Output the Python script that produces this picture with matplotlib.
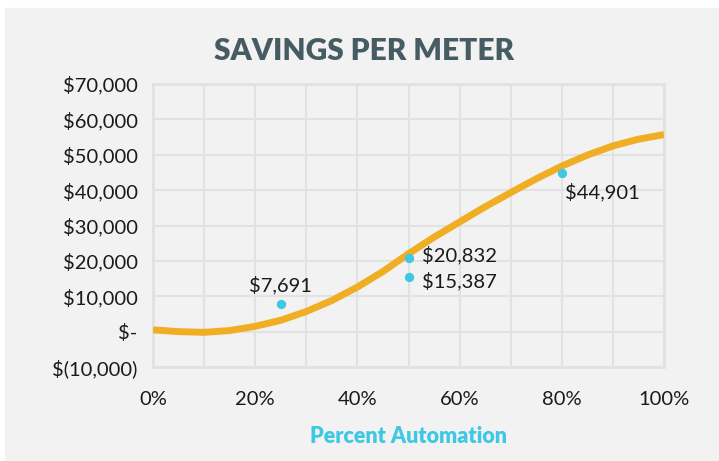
import matplotlib.pyplot as plt
from matplotlib.patches import Rectangle
from matplotlib.ticker import FuncFormatter, MultipleLocator

# curva de tendencia (cada 5%)
curva_x = [0, 0.05, 0.10, 0.15, 0.20, 0.25, 0.30, 0.35, 0.40, 0.45, 0.50,
           0.55, 0.60, 0.65, 0.70, 0.75, 0.80, 0.85, 0.90, 0.95, 1.00]
curva_y = [500, 0, -200, 300, 1500, 3200, 5700, 8800, 12600, 17000, 22000,
           26700, 31000, 35300, 39300, 43200, 46800, 49900, 52500, 54400, 55700]

# puntos medidos
puntos_x = [0.25, 0.50, 0.50, 0.80]
puntos_y = [7691, 20832, 15387, 44901]
etiquetas = ["$7,691", "$20,832", "$15,387", "$44,901"]

x_ticks = [0, 0.2, 0.4, 0.6, 0.8, 1.0]
y_ticks = [-10000, 0, 10000, 20000, 30000, 40000, 50000, 60000, 70000]

fondo = "#f2f2f2"
rejilla = "#e2e2e2"
naranja = "#f0ae24"
cian = "#3ec8e4"
fuente = "Lato"


def formato_y(v, pos):
    if v == 0:
        return "$-"
    if v < 0:
        return "$({:,.0f})".format(-v)
    return "${:,.0f}".format(v)


fig = plt.figure(figsize=(7.19, 4.61), dpi=100)
fig.patch.set_facecolor("white")
fig.patches.append(Rectangle((5 / 719, 0), 1, (461 - 8) / 461,
                             transform=fig.transFigure, color=fondo, zorder=-10))

ax = fig.add_axes([153 / 719, (461 - 367) / 461, 511 / 719, 283 / 461])
ax.set_facecolor(fondo)

ax.plot(curva_x, curva_y, color=naranja, lw=5, solid_capstyle="butt",
        solid_joinstyle="round", zorder=3)
ax.scatter(puntos_x, puntos_y, s=45, color=cian, zorder=4, linewidths=0)

desplaz = [(0, 14), (10, 2), (10, -3), (2, -14)]
alineacion = [("center", "center"), ("left", "center"), ("left", "center"), ("left", "center")]
for i in range(len(puntos_x)):
    ax.annotate(etiquetas[i], (puntos_x[i], puntos_y[i]), xytext=desplaz[i],
                textcoords="offset points", ha=alineacion[i][0], va=alineacion[i][1],
                fontsize=14.5, family=fuente, color="#1a1a1a", zorder=5)

ax.set_xlim(0, 1)
ax.set_ylim(-10000, 70000)
ax.set_xticks(x_ticks)
ax.xaxis.set_minor_locator(MultipleLocator(0.1))
ax.set_yticks(y_ticks)
ax.xaxis.set_major_formatter(FuncFormatter(lambda v, p: "{:.0f}%".format(v * 100)))
ax.yaxis.set_major_formatter(FuncFormatter(formato_y))
ax.grid(True, which="both", color=rejilla, lw=1.5)
ax.set_axisbelow(True)
ax.tick_params(which="both", length=0)
ax.tick_params(axis="x", pad=17)
ax.tick_params(axis="y", pad=11)
for lab in ax.get_xticklabels() + ax.get_yticklabels():
    lab.set_family(fuente)
    lab.set_fontsize(14.5)
    lab.set_color("#1a1a1a")
for s in ax.spines.values():
    s.set_color(rejilla)
    s.set_linewidth(2)

ax.set_xlabel("Percent Automation", family=fuente, fontsize=15.5, fontweight="heavy",
              color=cian, labelpad=13)
fig.text(0.506, 0.889, "SAVINGS PER METER", ha="center", va="center",
         family=fuente, fontsize=21.5, fontweight="heavy", color="#465c62")

plt.savefig("out.png", dpi=100, facecolor=fig.get_facecolor())
